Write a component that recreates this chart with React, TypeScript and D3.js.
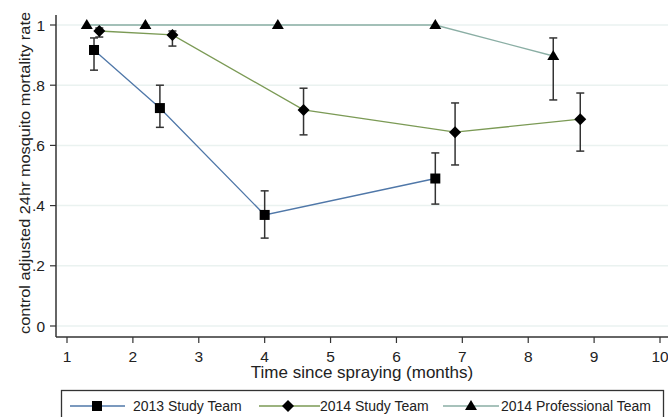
import React from "react";
import * as d3 from "d3";

const W = 668;
const H = 417;

const xTicks = [1, 2, 3, 4, 5, 6, 7, 8, 9, 10];
const yTicks = [0, 0.2, 0.4, 0.6, 0.8, 1];
const yTickLabels = ["0", ".2", ".4", ".6", ".8", "1"];

const series2013 = {
  name: "2013 Study Team",
  x: [1.41, 2.41, 4.0, 6.59],
  y: [0.917, 0.724, 0.369, 0.49],
  lo: [0.85, 0.66, 0.292, 0.405],
  hi: [0.957, 0.80, 0.449, 0.575],
};
const series2014 = {
  name: "2014 Study Team",
  x: [1.49, 2.6, 4.59, 6.89, 8.79],
  y: [0.98, 0.967, 0.718, 0.644, 0.687],
  lo: [0.96, 0.93, 0.635, 0.535, 0.581],
  hi: [0.99, 0.98, 0.79, 0.741, 0.774],
};
const seriesPro = {
  name: "2014 Professional Team",
  x: [1.3, 2.19, 4.2, 6.59, 8.38],
  y: [1, 1, 1, 1, 0.897],
  lo: [1, 1, 1, 1, 0.751],
  hi: [1, 1, 1, 1, 0.957],
};

const colors = ["#4f77a8", "#7b9a55", "#8aaea4"];
const font = "'Liberation Sans', Arial, sans-serif";

function Marker({ kind, x, y }: { kind: number; x: number; y: number }) {
  if (kind === 0) return <rect x={x - 5} y={y - 5} width={10} height={10} fill="#000" />;
  if (kind === 1)
    return <path d={`M${x},${y - 6}L${x + 6},${y}L${x},${y + 6}L${x - 6},${y}Z`} fill="#000" />;
  return <path d={`M${x},${y - 6}L${x + 6},${y + 4}L${x - 6},${y + 4}Z`} fill="#000" />;
}

export default function App() {
  const x = d3.scaleLinear().domain([1, 10]).range([67, 660]);
  const y = d3.scaleLinear().domain([0, 1]).range([326, 25]);
  const all = [series2013, series2014, seriesPro];
  const line = d3.line<number>();

  return (
    <svg width={W} height={H} style={{ position: "absolute", left: 0, top: 0 }} fontFamily={font}>
      <rect width={W} height={H} fill="#fff" />
      {yTicks.map((t) => (
        <line key={t} x1={57} x2={W} y1={y(t)} y2={y(t)} stroke="#eaf2f0" strokeWidth={1.5} />
      ))}
      {all.map((s, si) => (
        <path
          key={s.name}
          d={line(s.x.map((v, i) => [x(v), y(s.y[i])]) as any) || ""}
          fill="none"
          stroke={colors[si]}
          strokeWidth={1.3}
        />
      ))}
      {all.map((s) =>
        s.x.map((v, i) =>
          s.hi[i] === s.lo[i] ? null : (
            <g key={s.name + i} stroke="#333" strokeWidth={1.5}>
              <line x1={x(v)} x2={x(v)} y1={y(s.hi[i])} y2={y(s.lo[i])} />
              <line x1={x(v) - 4} x2={x(v) + 4} y1={y(s.hi[i])} y2={y(s.hi[i])} />
              <line x1={x(v) - 4} x2={x(v) + 4} y1={y(s.lo[i])} y2={y(s.lo[i])} />
            </g>
          )
        )
      )}
      {all.map((s, si) =>
        s.x.map((v, i) => <Marker key={s.name + "m" + i} kind={si} x={x(v)} y={y(s.y[i])} />)
      )}
      <line x1={56} x2={56} y1={15} y2={337} stroke="#333" strokeWidth={1.5} />
      <line x1={56} x2={W} y1={337} y2={337} stroke="#333" strokeWidth={1.5} />
      {yTicks.map((t, i) => (
        <g key={"yt" + t}>
          <line x1={50} x2={56} y1={y(t)} y2={y(t)} stroke="#333" strokeWidth={1.2} />
          <text x={45} y={y(t)} dy="0.36em" textAnchor="end" fontSize={15.5} fill="#222">
            {yTickLabels[i]}
          </text>
        </g>
      ))}
      {xTicks.map((t) => (
        <g key={"xt" + t}>
          <line x1={x(t)} x2={x(t)} y1={337} y2={343} stroke="#333" strokeWidth={1.2} />
          <text x={x(t)} y={362} textAnchor="middle" fontSize={15.5} fill="#222">
            {t}
          </text>
        </g>
      ))}
      <text x={362} y={378} textAnchor="middle" fontSize={17} fill="#222">
        Time since spraying (months)
      </text>
      <text
        transform={`translate(30,173) rotate(-90)`}
        textAnchor="middle"
        fontSize={15.5}
        textLength={322}
        lengthAdjust="spacingAndGlyphs"
        fill="#222"
      >
        control adjusted 24hr mosquito mortality rate
      </text>
      <rect x={61.5} y={390.5} width={602} height={40} fill="none" stroke="#333" strokeWidth={1.3} />
      {[
        { x1: 70, x2: 125, m: 97, tx: 133 },
        { x1: 259, x2: 320, m: 288, tx: 320 },
        { x1: 443, x2: 499, m: 471, tx: 501 },
      ].map((l, i) => (
        <g key={"lg" + i}>
          <line x1={l.x1} x2={l.x2} y1={406} y2={406} stroke={colors[i]} strokeWidth={1.3} />
          <Marker kind={i} x={l.m} y={406} />
          <text x={l.tx} y={411} fontSize={14} fill="#222">
            {all[i].name}
          </text>
        </g>
      ))}
    </svg>
  );
}
